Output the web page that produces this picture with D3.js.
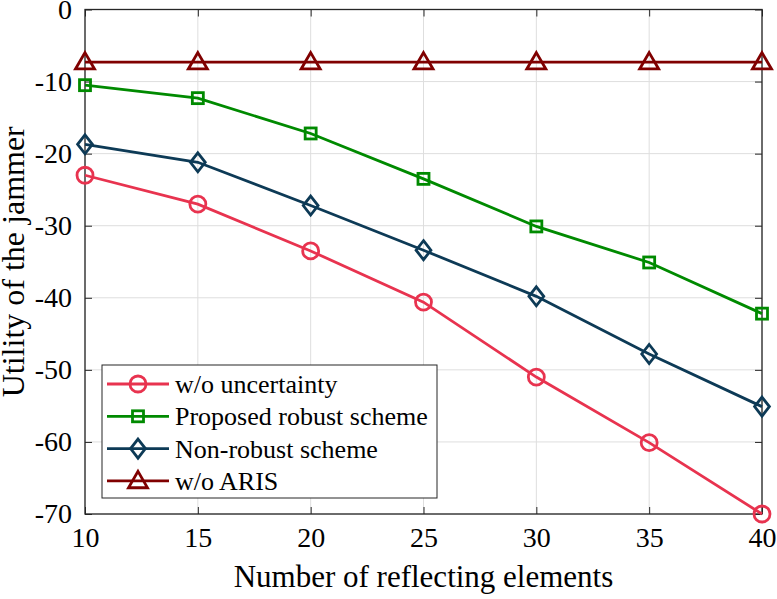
<!DOCTYPE html>
<html>
<head>
<meta charset="utf-8">
<script src="https://cdn.jsdelivr.net/npm/d3@7.9.0/dist/d3.min.js"></script>
<style>
  body { margin: 0; background: #fff; }
  svg text { font-family: "Liberation Serif", "Times New Roman", serif; }
</style>
</head>
<body>
<svg id="chart" width="777" height="599"></svg>
<script>
// data
const elements = [10, 15, 20, 25, 30, 35, 40];
const noUncertainty = [-23.0, -27.0, -33.5, -40.6, -51.0, -60.1, -70.0];
const proposedRobust = [-10.5, -12.3, -17.2, -23.5, -30.1, -35.1, -42.2];
const nonRobust = [-18.7, -21.2, -27.2, -33.4, -39.8, -47.8, -55.1];
const noAris = [-7.3, -7.3, -7.3, -7.3, -7.3, -7.3, -7.3];
const xTicks = [10, 15, 20, 25, 30, 35, 40];
const yTicks = [0, -10, -20, -30, -40, -50, -60, -70];

const series = [
  { name: 'w/o uncertainty', values: noUncertainty, color: '#e8334f', marker: 'circle' },
  { name: 'Proposed robust scheme', values: proposedRobust, color: '#008a00', marker: 'square' },
  { name: 'Non-robust scheme', values: nonRobust, color: '#0d3a56', marker: 'diamond' },
  { name: 'w/o ARIS', values: noAris, color: '#800000', marker: 'triangle' }
];

const margin = { left: 85, top: 9.5, right: 15, bottom: 85 };
const W = 777, H = 599;
const svg = d3.select('#chart');

const x = d3.scaleLinear().domain([10, 40]).range([margin.left, W - margin.right]);
const y = d3.scaleLinear().domain([-70, 0]).range([H - margin.bottom, margin.top]);
const fmt = d => String(d); // plain hyphen, like the figure

// grid
const grid = svg.append('g');
grid.selectAll('.gx').data(xTicks).enter().append('line')
  .attr('x1', d => x(d)).attr('x2', d => x(d))
  .attr('y1', y(0)).attr('y2', y(-70))
  .attr('stroke', '#dedede').attr('stroke-width', 1);
grid.selectAll('.gy').data(yTicks).enter().append('line')
  .attr('y1', d => y(d)).attr('y2', d => y(d))
  .attr('x1', x(10)).attr('x2', x(40))
  .attr('stroke', '#dedede').attr('stroke-width', 1);

// axes with inward ticks
const tickLen = 7;
svg.append('g').attr('transform', `translate(0,${y(-70)})`)
  .call(d3.axisBottom(x).tickValues(xTicks).tickFormat(fmt).tickSizeInner(-tickLen).tickSizeOuter(0).tickPadding(13))
  .call(g => g.select('.domain').remove());
svg.append('g').attr('transform', `translate(0,${y(0)})`)
  .call(d3.axisTop(x).tickValues(xTicks).tickSizeInner(-tickLen).tickSizeOuter(0).tickFormat(''))
  .call(g => g.select('.domain').remove());
svg.append('g').attr('transform', `translate(${x(10)},0)`)
  .call(d3.axisLeft(y).tickValues(yTicks).tickFormat(fmt).tickSizeInner(-tickLen).tickSizeOuter(0).tickPadding(13))
  .call(g => g.select('.domain').remove());
svg.append('g').attr('transform', `translate(${x(40)},0)`)
  .call(d3.axisRight(y).tickValues(yTicks).tickSizeInner(-tickLen).tickSizeOuter(0).tickFormat(''))
  .call(g => g.select('.domain').remove());

svg.selectAll('.tick line').attr('stroke', '#262626').attr('stroke-width', 1);
svg.selectAll('.tick text')
  .style('font-family', '"Liberation Serif", serif')
  .style('font-size', '28px')
  .style('fill', '#000');

// box
svg.append('rect')
  .attr('x', x(10)).attr('y', y(0))
  .attr('width', x(40) - x(10)).attr('height', y(-70) - y(0))
  .attr('fill', 'none').attr('stroke', '#262626').attr('stroke-width', 1.3);

// markers
const lw = 2.8;
function drawMarker(g, type, cx, cy, color) {
  if (type === 'circle') {
    g.append('circle').attr('cx', cx).attr('cy', cy).attr('r', 8)
      .attr('fill', 'none').attr('stroke', color).attr('stroke-width', lw);
  } else if (type === 'square') {
    const h = 5.5;
    g.append('rect').attr('x', cx - h).attr('y', cy - h).attr('width', 2 * h).attr('height', 2 * h)
      .attr('fill', 'none').attr('stroke', color).attr('stroke-width', lw);
  } else if (type === 'diamond') {
    const h = 9.5;
    g.append('path').attr('d', `M${cx},${cy - h}L${cx + h * 0.78},${cy}L${cx},${cy + h}L${cx - h * 0.78},${cy}Z`)
      .attr('fill', 'none').attr('stroke', color).attr('stroke-width', lw);
  } else if (type === 'triangle') {
    const h = 9.5;
    g.append('path').attr('d', `M${cx},${cy - h}L${cx + h},${cy + h * 0.72}L${cx - h},${cy + h * 0.72}Z`)
      .attr('fill', 'none').attr('stroke', color).attr('stroke-width', lw);
  }
}

const line = d3.line().x(d => x(d[0])).y(d => y(d[1]));
series.forEach(s => {
  const pts = elements.map((e, i) => [e, s.values[i]]);
  svg.append('path').datum(pts).attr('d', line)
    .attr('fill', 'none').attr('stroke', s.color).attr('stroke-width', lw);
  const g = svg.append('g');
  pts.forEach(p => drawMarker(g, s.marker, x(p[0]), y(p[1]), s.color));
});

// legend
const lg = svg.append('g');
lg.append('rect').attr('x', 102).attr('y', 365).attr('width', 335).attr('height', 133)
  .attr('fill', '#fff').attr('stroke', '#262626').attr('stroke-width', 1);
series.forEach((s, i) => {
  const ly = 384 + i * 32.3;
  lg.append('line').attr('x1', 107).attr('x2', 169).attr('y1', ly).attr('y2', ly)
    .attr('stroke', s.color).attr('stroke-width', lw);
  drawMarker(lg, s.marker, 138, ly, s.color);
  lg.append('text').attr('x', 175).attr('y', ly).attr('dy', '0.35em')
    .style('font-size', '26px').text(s.name);
});

// axis labels
svg.append('text').attr('x', (x(10) + x(40)) / 2).attr('y', 587)
  .attr('text-anchor', 'middle').style('font-size', '31px').text('Number of reflecting elements');
svg.append('text').attr('transform', `translate(24,${(y(0) + y(-70)) / 2}) rotate(-90)`)
  .attr('text-anchor', 'middle').style('font-size', '32px').text('Utility of the jammer');
</script>
</body>
</html>
